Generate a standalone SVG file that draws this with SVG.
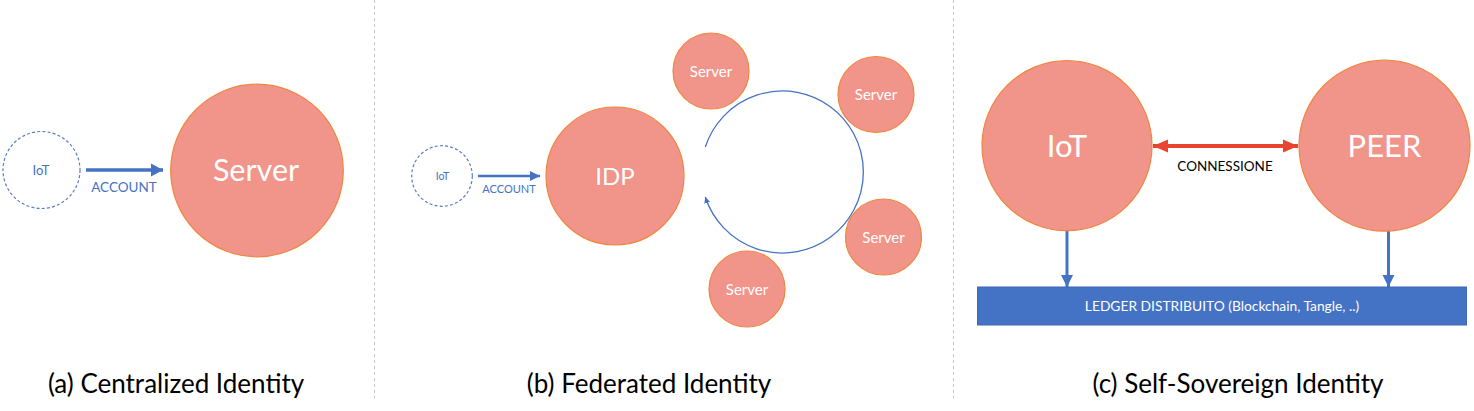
<svg xmlns="http://www.w3.org/2000/svg" width="1474" height="411" viewBox="0 0 1474 411">
<style>
.bg{fill:#ffffff}
.node{fill:#F1948A;stroke:#F0863E;stroke-width:1.2}
.dash{fill:none;stroke:#5A7DC2;stroke-width:1.2;stroke-dasharray:3 2.2}
.wt{fill:#ffffff;font-family:Lato,"Liberation Sans",sans-serif;text-anchor:middle}
.bt{fill:#4472C4;font-family:Lato,"Liberation Sans",sans-serif;text-anchor:middle}
.kt{fill:#000000;font-family:Lato,"Liberation Sans",sans-serif;text-anchor:middle}
.div{stroke:#C8C8C8;stroke-width:1;stroke-dasharray:3 3}
.blue{stroke:#4472C4;fill:none}
</style>
<defs>
<marker id="ahA" markerUnits="userSpaceOnUse" markerWidth="14" markerHeight="14" refX="12" refY="7" orient="auto"><path d="M0,0.5 L12,7 L0,13.5 Z" fill="#4472C4"/></marker>
<marker id="ahB" markerUnits="userSpaceOnUse" markerWidth="12" markerHeight="12" refX="10" refY="5.5" orient="auto"><path d="M0,0.5 L10,5.5 L0,10.5 Z" fill="#4472C4"/></marker>
<marker id="ahC" markerUnits="userSpaceOnUse" markerWidth="14" markerHeight="14" refX="12" refY="6.5" orient="auto"><path d="M0,0.5 L12,6.5 L0,12.5 Z" fill="#4472C4"/></marker>
<marker id="ahArc" markerUnits="userSpaceOnUse" markerWidth="8" markerHeight="8" refX="6" refY="3.5" orient="auto"><path d="M0,0.5 L6,3.5 L0,6.5 Z" fill="#4472C4"/></marker>
<marker id="ahR" markerUnits="userSpaceOnUse" markerWidth="16" markerHeight="16" refX="15" refY="7" orient="auto-start-reverse"><path d="M0,0.5 L15,7 L0,13.5 Z" fill="#E8442F"/></marker>
</defs>
<rect class="bg" x="0" y="0" width="1474" height="411"/>

<g id="dividers">
<line class="div" x1="374.5" y1="0" x2="374.5" y2="398"/>
<line class="div" x1="953.5" y1="0" x2="953.5" y2="398"/>
</g>

<g id="connectors">
<line class="blue" x1="86" y1="170" x2="163" y2="170" stroke-width="3.5" marker-end="url(#ahA)"/>
<line class="blue" x1="478" y1="176" x2="540" y2="176" stroke-width="2.6" marker-end="url(#ahB)"/>
<path class="blue" d="M705.3,147 A81,81 0 1 1 705.3,197" stroke-width="1.3" marker-end="url(#ahArc)"/>
<line x1="1153" y1="146" x2="1298" y2="146" stroke="#E8442F" stroke-width="4" marker-start="url(#ahR)" marker-end="url(#ahR)"/>
<line class="blue" x1="1067" y1="231" x2="1067" y2="287" stroke-width="3" marker-end="url(#ahC)"/>
<line class="blue" x1="1388.5" y1="231" x2="1388.5" y2="287" stroke-width="3" marker-end="url(#ahC)"/>
</g>

<g id="label-account-a"><text class="bt" x="124" y="192" font-size="13.5">ACCOUNT</text></g>
<g id="label-account-b"><text class="bt" x="509" y="193" font-size="11">ACCOUNT</text></g>
<g id="label-connessione"><text class="kt" x="1225" y="171" font-size="13.5">CONNESSIONE</text></g>

<g id="iot-a">
<circle class="dash" cx="41.5" cy="170" r="38.5"/>
<text class="bt" x="41" y="175" font-size="13">IoT</text>
</g>
<g id="server-a">
<circle class="node" cx="257" cy="170.5" r="86.3"/>
<text class="wt" x="256" y="181" font-size="30.5">Server</text>
</g>

<g id="iot-b">
<circle class="dash" cx="442" cy="176" r="30.3"/>
<text class="bt" x="442.5" y="180" font-size="10.5">IoT</text>
</g>
<g id="idp">
<circle class="node" cx="615" cy="176" r="69"/>
<text class="wt" x="615" y="185" font-size="24">IDP</text>
</g>
<g id="server-b1">
<circle class="node" cx="711" cy="71" r="38"/>
<text class="wt" x="711" y="76.5" font-size="15">Server</text>
</g>
<g id="server-b2">
<circle class="node" cx="876" cy="94.5" r="38"/>
<text class="wt" x="876" y="100" font-size="15">Server</text>
</g>
<g id="server-b3">
<circle class="node" cx="883.5" cy="237" r="38"/>
<text class="wt" x="883.5" y="242.5" font-size="15">Server</text>
</g>
<g id="server-b4">
<circle class="node" cx="747" cy="289" r="38"/>
<text class="wt" x="747" y="294.5" font-size="15">Server</text>
</g>

<g id="iot-c">
<circle class="node" cx="1067" cy="145.7" r="85"/>
<text class="wt" x="1067" y="156.5" font-size="31">IoT</text>
</g>
<g id="peer">
<circle class="node" cx="1384.5" cy="145.7" r="85.5"/>
<text class="wt" x="1384.5" y="156.5" font-size="31">PEER</text>
</g>
<g id="ledger">
<rect x="977.5" y="287" width="489" height="38" fill="#4472C4" stroke="#3F69B5" stroke-width="1"/>
<text class="wt" x="1222" y="310.5" font-size="13.8">LEDGER DISTRIBUITO (Blockchain, Tangle, ..)</text>
</g>

<g id="captions">
<text class="kt" x="176" y="393" font-size="26">(a) Centralized Identity</text>
<text class="kt" x="649" y="393" font-size="26">(b) Federated Identity</text>
<text class="kt" x="1238" y="393" font-size="26">(c) Self-Sovereign Identity</text>
</g>
</svg>
